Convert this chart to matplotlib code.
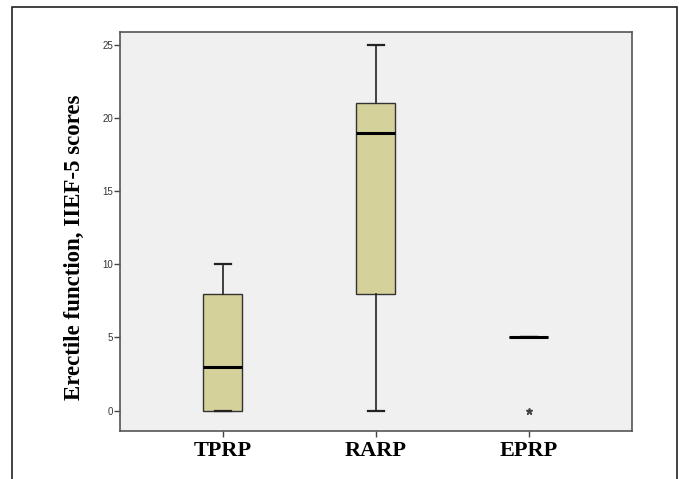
import matplotlib
matplotlib.use('Agg')
import matplotlib.pyplot as plt
from matplotlib.patches import Rectangle

groups = ['TPRP', 'RARP', 'EPRP']
whislo = [0, 0, 5]
q1 = [0, 8, 5]
med = [3, 19, 5]
q3 = [8, 21, 5]
whishi = [10, 25, 5]
outliers = [[], [], [0]]
yticks = [0, 5, 10, 15, 20, 25]

fig = plt.figure(figsize=(6.79, 4.79), dpi=100)
ax = fig.add_axes([0.1767, 0.1002, 0.754, 0.833])
ax.set_facecolor('#f0f0f0')

stats = []
for i, g in enumerate(groups):
    stats.append({'label': g, 'whislo': whislo[i], 'q1': q1[i], 'med': med[i],
                  'q3': q3[i], 'whishi': whishi[i], 'fliers': outliers[i]})

pos = list(range(len(groups)))
ax.bxp(stats, positions=pos, widths=0.255, patch_artist=True,
       boxprops=dict(facecolor='#d5d19b', edgecolor='#333333', linewidth=1.0),
       medianprops=dict(color='black', linewidth=2.2),
       whiskerprops=dict(color='#222222', linewidth=1.2),
       capprops=dict(color='#222222', linewidth=1.6),
       capwidths=0.1,
       flierprops=dict(marker='*', markersize=5, markerfacecolor='#444444',
                       markeredgecolor='#444444', linestyle='none'))

ax.set_xlim(-0.673, 2.673)
ax.set_ylim(-1.39, 25.87)
ax.set_yticks(yticks)
ax.set_yticklabels([str(t) for t in yticks], fontsize=7, family='Liberation Sans', color='#333333')
ax.set_xticks(pos)
ax.set_xticklabels(groups, fontsize=16, family='Liberation Serif', fontweight='bold')
ax.tick_params(axis='y', length=4, width=1, color='#444444', pad=1)
ax.tick_params(axis='x', length=4, width=1, color='#444444', pad=3)
for s in ax.spines.values():
    s.set_color('#555555')
    s.set_linewidth(1.2)

fig.text(0.11, 0.484, 'Erectile function, IIEF-5 scores', rotation=90, ha='center', va='center',
         fontsize=16.5, family='Liberation Serif', fontweight='bold')

# outer frame around the figure
fig.patches.append(Rectangle((12 / 679, -0.05), 665 / 679, 1.05 - 7 / 479, transform=fig.transFigure,
                             fill=False, edgecolor='#222222', linewidth=1.2, clip_on=False))

fig.savefig('out.png', dpi=100)
